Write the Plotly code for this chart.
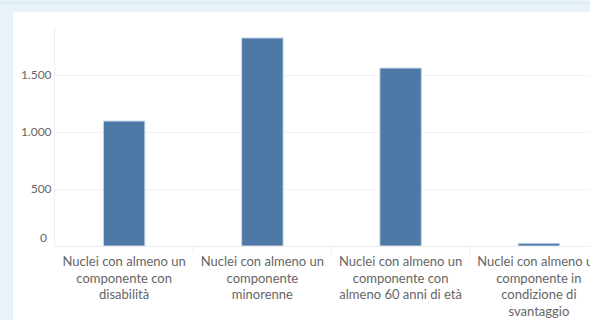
import plotly.graph_objects as go

categories = [
    "Nuclei con almeno un<br>componente con<br>disabilità",
    "Nuclei con almeno un<br>componente<br>minorenne",
    "Nuclei con almeno un<br>componente con<br>almeno 60 anni di età",
    "Nuclei con almeno un<br>componente in<br>condizione di<br>svantaggio",
]
values = [1096, 1825, 1561, 24]
tick_vals = [0, 500, 1000, 1500]
tick_text = ["0", "500", "1.000", "1.500"]

W, H = 590, 320
font_family = "Lato, 'Open Sans', sans-serif"

fig = go.Figure()
fig.add_trace(go.Bar(
    x=list(range(len(categories))),
    y=values,
    marker=dict(color="#4e79a7", line=dict(color="#c9d9e8", width=1)),
    width=0.3,
    hoverinfo="skip",
))

# background panel shapes
fig.add_shape(type="rect", xref="paper", yref="paper", layer="below",
              x0=(13 - 55) / 535, x1=(590 - 55) / 535 + 0.1,
              y0=(246 - 330) / 219, y1=(246 - 12) / 219,
              fillcolor="white", line=dict(width=0))
fig.add_shape(type="line", xref="paper", yref="paper", layer="below",
              x0=-0.2, x1=1.2, y0=(246 - 3) / 219, y1=(246 - 3) / 219,
              line=dict(color="#d6e3ea", width=1))
for xv in [0.5, 1.5, 2.5]:
    fig.add_shape(type="line", xref="x", yref="paper",
                  x0=xv, x1=xv, y0=0, y1=-8 / 219,
                  line=dict(color="#eeeeee", width=1))

# "0" label sits slightly above the baseline, as in the reference
fig.add_annotation(xref="paper", yref="y", x=0, y=tick_vals[0],
                   text=tick_text[0], showarrow=False,
                   xanchor="right", yanchor="middle", xshift=-6, yshift=9,
                   font=dict(size=12, color="#666666", family=font_family))

fig.update_layout(
    width=W, height=H,
    margin=dict(l=55, r=0, t=27, b=74, autoexpand=False),
    paper_bgcolor="#e8f3f9",
    plot_bgcolor="white",
    separators=",.",
    showlegend=False,
    font=dict(family=font_family, color="#666666", size=12),
    bargap=0.7,
)
fig.update_xaxes(
    automargin=False,
    range=[-0.5, 3.37],
    tickmode="array",
    tickvals=list(range(len(categories))),
    ticktext=categories,
    tickangle=0,
    ticklabeloverflow="allow",
    ticklabelstandoff=3,
    showgrid=False,
    showline=True, linecolor="#eeeeee", linewidth=1,
    ticks="", zeroline=False,
    tickfont=dict(size=13, color="#666666"),
    fixedrange=True,
)
fig.update_yaxes(
    automargin=False,
    range=[0, 1921],
    tickmode="array",
    tickvals=tick_vals,
    ticktext=[""] + tick_text[1:],
    showgrid=True, gridcolor="#f2f2f2", gridwidth=1,
    showline=True, linecolor="#eeeeee", linewidth=1,
    zeroline=False, ticks="", ticklen=0,
    tickfont=dict(size=12, color="#666666"),
    fixedrange=True,
)

fig.write_html("out.html", config={"displayModeBar": False},
               post_script="document.body.style.margin='0';document.body.style.overflow='hidden';")
